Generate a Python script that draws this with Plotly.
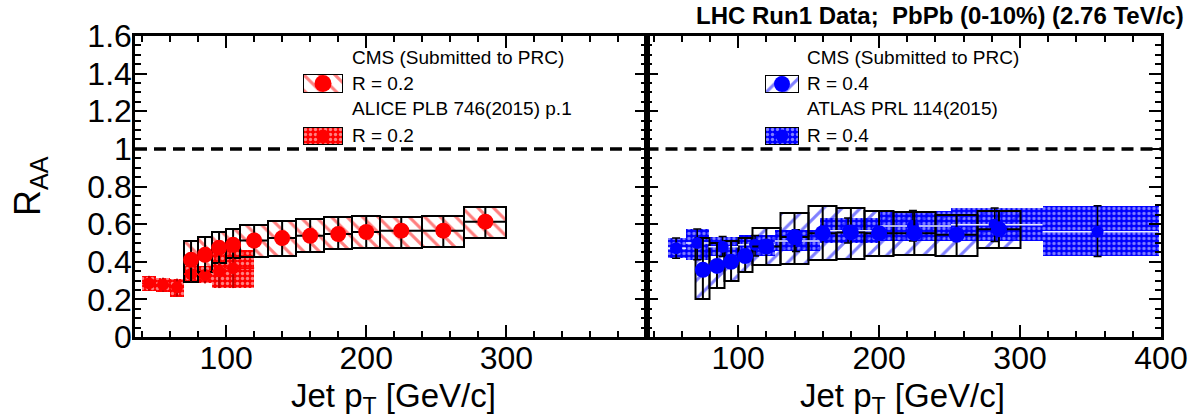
import plotly.graph_objects as go

W, H = 1189, 420

# ---------------- data ----------------
# CMS R = 0.2 (pT bins, points, box extents)
cms02_lo = [70, 80, 90, 100, 110, 130, 150, 170, 190, 210, 240, 270]
cms02_hi = [80, 90, 100, 110, 130, 150, 170, 190, 210, 240, 270, 300]
cms02_x = [75, 85, 95, 105, 120, 140, 160, 180, 200, 225, 255, 285]
cms02_y = [0.41, 0.437, 0.474, 0.49, 0.513, 0.526, 0.538, 0.547, 0.558, 0.565, 0.565, 0.613]
cms02_top = [0.508, 0.529, 0.556, 0.574, 0.597, 0.614, 0.627, 0.638, 0.641, 0.640, 0.642, 0.693]
cms02_bot = [0.295, 0.348, 0.393, 0.419, 0.425, 0.432, 0.454, 0.467, 0.472, 0.475, 0.480, 0.527]

# ALICE R = 0.2
alice_lo = [40, 50, 60, 70, 80, 90, 100]
alice_hi = [50, 60, 70, 80, 90, 100, 120]
alice_x = [45, 55, 65, 75, 85, 95, 105]
alice_y = [0.285, 0.278, 0.265, 0.335, 0.33, 0.35, 0.366]
alice_top = [0.325, 0.315, 0.31, 0.375, 0.38, 0.44, 0.46]
alice_bot = [0.245, 0.24, 0.215, 0.295, 0.285, 0.26, 0.26]

# CMS R = 0.4
cms04_lo = [70, 80, 90, 100, 110, 130, 150, 170, 190, 210, 240, 270]
cms04_hi = [80, 90, 100, 110, 130, 150, 170, 190, 210, 240, 270, 300]
cms04_x = [75, 85, 95, 105, 120, 140, 160, 180, 200, 225, 255, 285]
cms04_y = [0.357, 0.378, 0.40, 0.43, 0.481, 0.531, 0.552, 0.556, 0.552, 0.552, 0.543, 0.573]
cms04_top = [0.526, 0.499, 0.511, 0.526, 0.58, 0.659, 0.694, 0.686, 0.671, 0.664, 0.65, 0.672]
cms04_bot = [0.20, 0.263, 0.30, 0.343, 0.383, 0.389, 0.41, 0.415, 0.432, 0.437, 0.432, 0.472]

# ATLAS R = 0.4
atlas_lo = [50, 63, 79, 100, 126, 158, 200, 251, 316]
atlas_hi = [63, 79, 100, 126, 158, 200, 251, 316, 398]
atlas_x = [56, 71, 89, 112, 141, 178, 224, 282, 355]
atlas_y = [0.472, 0.50, 0.48, 0.49, 0.51, 0.565, 0.59, 0.597, 0.56]
atlas_top = [0.526, 0.574, 0.534, 0.54, 0.57, 0.632, 0.672, 0.686, 0.698]
atlas_bot = [0.419, 0.41, 0.428, 0.43, 0.455, 0.50, 0.51, 0.508, 0.428]

# axes
x_range = [35, 400]
y_range = [0, 1.6]
y_tickvals = [0, 0.2, 0.4, 0.6, 0.8, 1.0, 1.2, 1.4, 1.6]
y_ticktext = ["0", "0.2", "0.4", "0.6", "0.8", "1", "1.2", "1.4", "1.6"]
x_tickvals_left = [100, 200, 300]
x_tickvals_right = [100, 200, 300, 400]
reference_level = 1.0

RED = "#ff0000"
BLUE = "#0000ff"
FONT = "Liberation Sans, Arial, Helvetica, sans-serif"


def px(x):
    return x / W


def py(y):
    return 1 - y / H


def centers(lo, hi):
    return [(a + b) / 2 for a, b in zip(lo, hi)]


def widths(lo, hi):
    return [b - a for a, b in zip(lo, hi)]


def half_left(x, lo):
    return [a - b for a, b in zip(x, lo)]


def half_right(x, hi):
    return [b - a for a, b in zip(x, hi)]


def diff(a, b):
    return [p - q for p, q in zip(a, b)]


fig = go.Figure()


def add_boxes(lo, hi, top, bot, xa, ya, pattern, line_w):
    fig.add_trace(go.Bar(
        x=centers(lo, hi), width=widths(lo, hi),
        base=bot, y=diff(top, bot),
        xaxis=xa, yaxis=ya,
        marker=dict(color="rgba(0,0,0,0)", pattern=pattern,
                    line=dict(color="black", width=line_w)),
        showlegend=False, hoverinfo="skip",
    ))


def add_points(x, y, lo, hi, top, bot, xa, ya, color, size, ebar_color,
               ebar_w, cap, xbar_color):
    fig.add_trace(go.Scatter(
        x=x, y=y, xaxis=xa, yaxis=ya, mode="markers",
        marker=dict(color=color, size=size, symbol="circle", line=dict(width=0)),
        error_y=dict(type="data", symmetric=False, array=diff(top, y),
                     arrayminus=diff(y, bot), color=ebar_color,
                     thickness=ebar_w, width=cap),
        error_x=dict(type="data", symmetric=False, array=half_right(x, hi),
                     arrayminus=half_left(x, lo), color=xbar_color,
                     thickness=ebar_w, width=0),
        showlegend=False, hoverinfo="skip",
    ))


pat_red_dots = dict(shape=".", bgcolor=RED, fgcolor="white", size=5, solidity=0.35)
pat_blue_dots = dict(shape=".", bgcolor=BLUE, fgcolor="white", size=5, solidity=0.35)
pat_red_hatch = dict(shape="\\", fgcolor=RED, bgcolor="rgba(0,0,0,0)", size=11, solidity=0.28)
pat_blue_hatch = dict(shape="/", fgcolor=BLUE, bgcolor="rgba(0,0,0,0)", size=13, solidity=0.24)

# left panel: ALICE then CMS R=0.2
add_boxes(alice_lo, alice_hi, alice_top, alice_bot, "x", "y", pat_red_dots, 0)
add_boxes(cms02_lo, cms02_hi, cms02_top, cms02_bot, "x", "y", pat_red_hatch, 2)
add_points(alice_x, alice_y, alice_lo, alice_hi, alice_top, alice_bot, "x", "y",
           RED, 12, "#c00000", 2, 0, RED)
add_points(cms02_x, cms02_y, cms02_lo, cms02_hi, cms02_top, cms02_bot, "x", "y",
           RED, 16, "black", 2, 0, "black")

# right panel: ATLAS then CMS R=0.4
add_boxes(atlas_lo, atlas_hi, atlas_top, atlas_bot, "x2", "y2", pat_blue_dots, 0)
add_boxes(cms04_lo, cms04_hi, cms04_top, cms04_bot, "x2", "y2", pat_blue_hatch, 2)
add_points(atlas_x, atlas_y, atlas_lo, atlas_hi, atlas_top, atlas_bot, "x2", "y2",
           BLUE, 12, "black", 1.5, 4, "#e8ecff")
add_points(cms04_x, cms04_y, cms04_lo, cms04_hi, cms04_top, cms04_bot, "x2", "y2",
           BLUE, 16, "black", 2, 0, "black")

# ---------------- legend swatches (small hidden axes) ----------------
swatches = [
    # (axis index, left px, right px, top px, bottom px, pattern, marker color, marker size)
    (3, 303, 343, 74, 93, pat_red_hatch, RED, 17),
    (4, 303, 343, 127, 145, pat_red_dots, RED, 13),
    (5, 765, 799, 75, 93, pat_blue_hatch, BLUE, 16),
    (6, 765, 799, 127, 145, pat_blue_dots, BLUE, 13),
]
for idx, l, r, t, b, pat, mc, ms in swatches:
    xa, ya = f"x{idx}", f"y{idx}"
    fig.add_trace(go.Bar(x=[0.5], width=[1], base=[0], y=[1], xaxis=xa, yaxis=ya,
                         marker=dict(color="rgba(0,0,0,0)", pattern=pat,
                                     line=dict(color="black", width=2)),
                         showlegend=False, hoverinfo="skip"))
    fig.add_trace(go.Scatter(x=[0.5], y=[0.5], xaxis=xa, yaxis=ya, mode="markers",
                             marker=dict(color=mc, size=ms), showlegend=False,
                             hoverinfo="skip"))
    fig.layout[f"xaxis{idx}"] = dict(domain=[px(l), px(r)], range=[0, 1], visible=False,
                                     fixedrange=True, anchor=ya, automargin=False)
    fig.layout[f"yaxis{idx}"] = dict(domain=[py(b), py(t)], range=[0, 1], visible=False,
                                     fixedrange=True, anchor=xa, automargin=False)

# ---------------- axes ----------------
x_left_dom = [px(135), px(646.5)]
x_right_dom = [px(646.5), px(1161)]
y_dom = [py(337), py(36)]

minor_x = [v for v in range(40, 400, 20) if v % 100 != 0]
minor_y = [round(i * 0.05, 2) for i in range(0, 33) if i % 4 != 0]

axis_common = dict(showline=True, linecolor="black", linewidth=2.5, mirror="ticks",
                   ticks="inside", tickcolor="black", tickwidth=2, showgrid=False,
                   zeroline=False, automargin=False,
                   tickfont=dict(family=FONT, size=32, color="black"))

fig.update_layout(
    xaxis=dict(domain=x_left_dom, range=x_range, anchor="y", tickmode="array",
               tickvals=x_tickvals_left, ticklen=12, ticklabelstandoff=-9,
               minor=dict(tickmode="array", tickvals=minor_x, ticklen=6, tickwidth=2,
                          tickcolor="black", ticks="inside"),
               **axis_common),
    xaxis2=dict(domain=x_right_dom, range=x_range, anchor="y2", tickmode="array",
                tickvals=x_tickvals_right, ticklen=12, ticklabelstandoff=-9,
                minor=dict(tickmode="array", tickvals=minor_x, ticklen=6, tickwidth=2,
                           tickcolor="black", ticks="inside"),
                **axis_common),
    yaxis=dict(domain=y_dom, range=y_range, anchor="x", tickmode="array",
               tickvals=y_tickvals, ticktext=y_ticktext, ticklen=12, ticklabelstandoff=-6,
               minor=dict(tickmode="array", tickvals=minor_y, ticklen=6, tickwidth=2,
                          tickcolor="black", ticks="inside"),
               **axis_common),
    yaxis2=dict(domain=y_dom, range=y_range, anchor="x2", tickmode="array",
                tickvals=y_tickvals, ticklen=12, showticklabels=False,
                minor=dict(tickmode="array", tickvals=minor_y, ticklen=6, tickwidth=2,
                           tickcolor="black", ticks="inside"),
                **axis_common),
    barmode="overlay",
    bargap=0,
    width=W, height=H,
    margin=dict(l=0, r=0, t=0, b=0, autoexpand=False),
    paper_bgcolor="white", plot_bgcolor="white",
    showlegend=False,
    font=dict(family=FONT, color="black"),
)

# dashed reference line at R_AA = 1 in both panels
for xr, yr in (("x domain", "y"), ("x2 domain", "y2")):
    fig.add_shape(type="line", xref=xr, yref=yr, x0=0, x1=1,
                  y0=reference_level, y1=reference_level,
                  line=dict(color="black", width=3.5, dash="12px,7px"), layer="above")

# ---------------- text ----------------
def label(text, x, y, size, xanchor="left", yanchor="middle", bold=False, angle=0):
    fig.add_annotation(text=f"<b>{text}</b>" if bold else text, x=px(x), y=py(y),
                       xref="paper", yref="paper", xanchor=xanchor, yanchor=yanchor,
                       showarrow=False, textangle=angle,
                       font=dict(family=FONT, size=size, color="black"))


label("CMS (Submitted to PRC)", 350, 58, 19)
label("R = 0.2", 350, 84, 19)
label("ALICE PLB 746(2015) p.1", 350, 109, 19)
label("R = 0.2", 350, 135, 19)

label("CMS (Submitted to PRC)", 805, 58, 19)
label("R = 0.4", 805, 84, 19)
label("ATLAS PRL 114(2015)", 805, 109, 19)
label("R = 0.4", 805, 135, 19)

label("LHC Run1 Data;  PbPb (0-10%) (2.76 TeV/c)", 1186, 16, 24, xanchor="right", bold=True)

label("Jet p<sub>T</sub> [GeV/c]", 393, 421, 33, xanchor="center", yanchor="bottom")
label("Jet p<sub>T</sub> [GeV/c]", 903, 421, 33, xanchor="center", yanchor="bottom")
label("R<sub>AA</sub>", 30, 186, 36, xanchor="center", angle=-90)

fig.write_html("out.html")
